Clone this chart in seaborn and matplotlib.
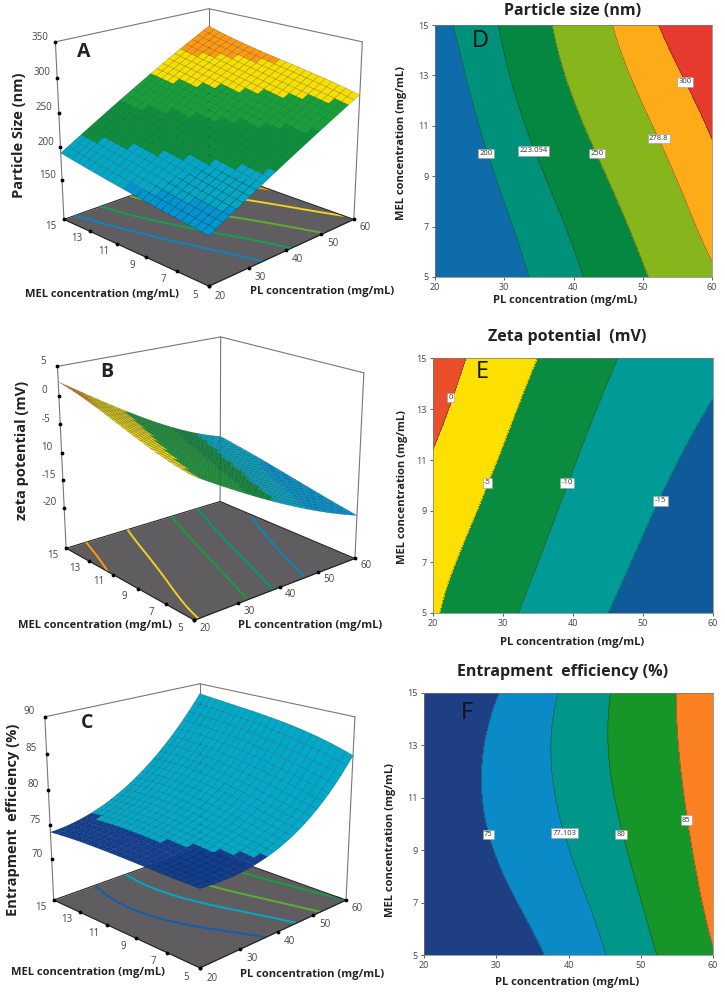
import numpy as np
import seaborn as sns
import matplotlib
matplotlib.use("Agg")
import matplotlib.pyplot as plt
from mpl_toolkits.mplot3d import proj3d

sns.set_theme(style="ticks")
plt.rcParams['font.family'] = ['Open Sans', 'DejaVu Sans']

pl_ticks = [20, 30, 40, 50, 60]
mel_ticks = [5, 7, 9, 11, 13, 15]
pl_grid = [20, 25, 30, 35, 40, 45, 50, 55, 60]

# rows = MEL 5,7,9,11,13,15, columns = pl_grid
size_values = [[158, 174, 189, 205, 218, 233, 248, 262, 275],
               [165, 180, 196, 212, 228, 241, 256, 271, 286],
               [170, 186, 205, 221, 236, 250, 265, 280, 294],
               [176, 193, 212, 230, 245, 260, 274, 288, 302],
               [184, 203, 221, 238, 254, 270, 285, 298, 312],
               [191, 207, 226, 244, 260, 277, 292, 308, 323]]
zeta_values = [[-4.6, -6.8, -9.1, -11.2, -13.1, -15.0, -16.7, -18.3, -19.7],
               [-3.5, -5.6, -7.9, -10.0, -12.0, -13.9, -15.6, -17.2, -18.6],
               [-2.1, -4.4, -6.8, -8.8, -10.8, -12.7, -14.5, -16.1, -17.5],
               [-0.4, -3.0, -5.5, -7.7, -9.8, -11.7, -13.4, -15.0, -16.3],
               [1.3, -1.4, -3.9, -6.4, -8.6, -10.7, -12.4, -14.0, -15.2],
               [2.3, -0.1, -2.6, -5.2, -7.3, -9.4, -11.3, -13.0, -14.3]]
ee_values = [[74.2, 74.3, 74.4, 74.6, 75.6, 77.1, 79.0, 81.6, 84.7],
             [74.2, 74.4, 74.7, 75.1, 76.2, 77.8, 79.9, 82.7, 86.0],
             [74.3, 74.6, 75.1, 76.0, 77.05, 78.7, 80.8, 83.8, 87.0],
             [74.3, 74.7, 75.3, 76.4, 77.6, 79.4, 81.8, 84.6, 87.5],
             [74.2, 74.6, 75.2, 76.4, 77.7, 79.7, 82.0, 84.9, 88.0],
             [73.9, 74.3, 74.9, 76.1, 77.6, 79.6, 82.2, 85.1, 88.5]]

size_levels = [200, 223.094, 250, 278.8, 300]
size_labels = ['200', '223.094', '250', '278.8', '300']
size_label_pos = [(27.4, 9.9), (34.2, 10.0), (43.4, 9.9), (52.3, 10.5), (56.1, 12.75)]
zeta_levels = [-15, -10, -5, 0]
zeta_labels = ['-15', '-10', '-5', '0']
zeta_label_pos = [(52.5, 9.4), (39.2, 10.1), (27.8, 10.1), (22.5, 13.45)]
ee_levels = [75, 77.103, 80, 85]
ee_labels = ['75', '77.103', '80', '85']
ee_label_pos = [(28.9, 9.6), (39.4, 9.65), (47.3, 9.6), (56.3, 10.15)]

X0, Y0 = np.meshgrid(pl_grid, mel_ticks)


def fx(x):
    return x / 725


def fy(y):
    return 1 - y / 996


def basis(X, Y):
    u = (np.ravel(X) - 40) / 20
    v = (np.ravel(Y) - 10) / 5
    return np.column_stack([u ** i * v ** j for i in range(4) for j in range(4)])


def refine(values, nx, ny):
    # smooth response surface through the read table, for the drawing mesh only
    coef = np.linalg.lstsq(basis(X0, Y0), np.ravel(values), rcond=None)[0]
    X, Y = np.meshgrid(np.linspace(20, 60, nx), np.linspace(5, 15, ny))
    return X, Y, (basis(X, Y) @ coef).reshape(X.shape)


def contour_panel(rect, values, levels, colors, labels, label_pos, title, title_xy, xlab_xy, ylab_xy, letter, letter_xy, letter_size):
    x0, y0, x1, y1 = rect
    ax = fig.add_axes([fx(x0), fy(y1), (x1 - x0) / 725, (y1 - y0) / 996])
    X, Y, Z = refine(values, 161, 121)
    ax.contourf(X, Y, Z, levels=[-1e4] + levels + [1e4], colors=sns.color_palette(colors))
    ax.contour(X, Y, Z, levels=levels, colors='#2a2a2a', linewidths=0.4, alpha=0.7)
    for lab, (px, py) in zip(labels, label_pos):
        ax.text(px, py, lab, fontsize=5.5, color='#333333', ha='center', va='center',
                bbox=dict(boxstyle='square,pad=0.18', fc='white', ec='#999999', lw=0.4))
    ax.set_xlim(20, 60)
    ax.set_ylim(5, 15)
    ax.set_xticks(pl_ticks)
    ax.set_yticks(mel_ticks)
    ax.tick_params(labelsize=6.5, colors='#444444', length=2.5, width=0.6, pad=2)
    for s in ax.spines.values():
        s.set_linewidth(0.5)
        s.set_color('#777777')
    fig.text(fx(title_xy[0]), fy(title_xy[1]), title, fontsize=11.5, fontweight='bold', color='#222222', ha='center', va='center')
    fig.text(fx(xlab_xy[0]), fy(xlab_xy[1]), 'PL concentration (mg/mL)', fontsize=8, fontweight='bold', color='#222222', ha='center', va='center')
    fig.text(fx(ylab_xy[0]), fy(ylab_xy[1]), 'MEL concentration (mg/mL)', fontsize=8, fontweight='bold', color='#222222', ha='center', va='center', rotation=90)
    fig.text(fx(letter_xy[0]), fy(letter_xy[1]), letter, fontsize=letter_size, color='#111111', ha='center', va='center')


def surface_panel(rect, azim, values, zlim, zticks, ztick_labels, surf_levels, surf_colors, floor_levels, floor_colors,
                  zlabel, zlabel_xy, zlabel_size, mel_xy, pl_xy, letter, letter_xy, zoom=0.95, zaspect=0.89, elev=19, pl_drop=0.025):
    x0, y0, w, h = rect
    ax = fig.add_axes([fx(x0), fy(y0 + h), w / 725, h / 996], projection='3d', computed_zorder=False)
    ax.set_proj_type('persp', focal_length=0.55)
    ax.view_init(elev=elev, azim=azim)
    ax.set_box_aspect((1, 1, zaspect), zoom=zoom)
    ax.patch.set_alpha(0)
    zmin, zmax = zlim

    # floor
    fx2, fy2 = np.meshgrid([20, 60], [5, 15])
    ax.plot_surface(fx2, fy2, np.full_like(fx2, zmin, dtype=float), color='#5f5d5f', shade=False, linewidth=0, zorder=1)

    X, Y, Z = refine(values, 161, 121)
    ax.contour(X, Y, Z, levels=floor_levels, colors=floor_colors, zdir='z', offset=zmin, linewidths=1.4, zorder=2)

    # back box lines
    grey = '#777777'
    for xs, ys, zs in [([20, 20], [15, 15], [zmin, zmax]), ([60, 60], [15, 15], [zmin, zmax]), ([60, 60], [5, 5], [zmin, zmax]),
                       ([20, 60], [15, 15], [zmax, zmax]), ([60, 60], [15, 5], [zmax, zmax])]:
        ax.plot(xs, ys, zs, color=grey, lw=0.8, zorder=1.5)
    ax.plot([20, 60], [5, 5], [zmin, zmin], color='#222222', lw=0.8, zorder=3)
    ax.plot([20, 20], [5, 15], [zmin, zmin], color='#222222', lw=0.8, zorder=3)
    ax.plot([60, 60], [5, 15], [zmin, zmin], color='#222222', lw=0.8, zorder=3)
    ax.plot([20, 60], [15, 15], [zmin, zmin], color='#222222', lw=0.8, zorder=1.5)

    # surface, banded by level
    Xs, Ys, Zs = refine(values, 25, 25)
    mid = (Zs[:-1, :-1] + Zs[1:, :-1] + Zs[:-1, 1:] + Zs[1:, 1:]) / 4
    idx = np.digitize(mid, surf_levels)
    cols = np.array([matplotlib.colors.to_rgba(c) for c in surf_colors])[idx]
    ax.plot_surface(Xs, Ys, Zs, facecolors=cols, rstride=1, cstride=1, shade=False,
                    edgecolor=(0, 0, 0, 0.35), linewidth=0.3, antialiased=True, zorder=4)

    # ticks as dots
    ax.scatter(pl_ticks, [5] * len(pl_ticks), [zmin] * len(pl_ticks), color='black', s=3, depthshade=False, zorder=5)
    ax.scatter([20] * len(mel_ticks), mel_ticks, [zmin] * len(mel_ticks), color='black', s=3, depthshade=False, zorder=5)
    ax.scatter([20] * len(zticks), [15] * len(zticks), zticks, color='black', s=3, depthshade=False, zorder=5)

    ax.set_xlim(20, 60)
    ax.set_ylim(5, 15)
    ax.set_zlim(zmin, zmax)
    ax.set_xticks([])
    ax.set_yticks([])
    ax.set_zticks([])
    ax.set_axis_off()

    # tick labels as plain 2D text at the projected spots
    M = ax.get_proj()

    def label3d(x, y, z, s):
        px, py, _ = proj3d.proj_transform(x, y, z, M)
        ax.text2D(px, py, s, transform=ax.transData, fontsize=7, color='#444444', ha='center', va='center', zorder=6)

    dz = (zmax - zmin)
    for t in pl_ticks:
        label3d(t, 5 - 0.7, zmin - dz * pl_drop, str(t))
    for t in mel_ticks:
        label3d(20 - 3.2, t, zmin - dz * 0.015, str(t))
    for t, lab in zip(zticks, ztick_labels):
        label3d(20 - 1.9, 15 + 0.5, t + dz * 0.025, lab)

    fig.text(fx(zlabel_xy[0]), fy(zlabel_xy[1]), zlabel, fontsize=zlabel_size, fontweight='bold', color='#222222', ha='center', va='center', rotation=90)
    fig.text(fx(mel_xy[0]), fy(mel_xy[1]), 'MEL concentration (mg/mL)', fontsize=8, fontweight='bold', color='#222222', ha='center', va='center')
    fig.text(fx(pl_xy[0]), fy(pl_xy[1]), 'PL concentration (mg/mL)', fontsize=8, fontweight='bold', color='#222222', ha='center', va='center')
    fig.text(fx(letter_xy[0]), fy(letter_xy[1]), letter, fontsize=14, fontweight='bold', color='#222222', ha='center', va='center')


fig = plt.figure(figsize=(7.25, 9.96), dpi=100, facecolor='white')

surface_panel((4, -42, 400, 360), -135, size_values, (90, 350), [150, 200, 250, 300, 350], ['150', '200', '250', '300', '350'],
              [178, 208, 242, 268, 295], ['#0095d0', '#00a7c6', '#0a8f3c', '#16a03a', '#f7e000', '#ff9a10'],
              size_levels, ['#0a86c0', '#12a050', '#5cb030', '#f0d020', '#ff9a10'],
              'Particle Size (nm)', (19, 135), 10.5, (102, 295), (322, 291), 'A', (84, 52), zoom=0.95)
surface_panel((4, 289, 400, 360), -130, zeta_values, (-27.6, 5), [-20, -15, -10, -5, 0, 5], ['-20', '-15', '10', '-5', '0', '5'],
              [-15.5, -12.5, -10, -5, 0], ['#0095d0', '#00a7c6', '#0a8f3c', '#16a03a', '#f2dc10', '#ff9a10'],
              [-15.5, -12.5, -10, -5, 0], ['#0a86c0', '#00997a', '#12a040', '#f0d020', '#ff9a10'],
              'zeta potential (mV)', (22, 450), 10.5, (95, 625), (310, 625), 'B', (107, 372), zoom=0.96, zaspect=0.92, pl_drop=0.012)
surface_panel((-5, 636, 400, 360), -135, ee_values, (63.9, 90), [70, 75, 80, 85, 90], ['70', '75', '80', '85', '90'],
              [75], ['#103f92', '#00a9c9'],
              ee_levels, ['#0f5fb0', '#00a9c9', '#5cb030', '#12a040'],
              'Entrapment  efficiency (%)', (13, 820), 10.5, (88, 972), (312, 974), 'C', (87, 723), zoom=0.965, zaspect=0.91)

contour_panel((435, 25, 712, 277), size_values, size_levels, ['#0f6cab', '#00917a', '#048740', '#86b51c', '#fdab17', '#e63a2e'],
              size_labels, size_label_pos, 'Particle size (nm)', (573, 11), (565, 301), (401, 143), 'D', (480, 41), 17)
contour_panel((433, 358, 713, 613), zeta_values, zeta_levels, ['#0f5a99', '#009b96', '#0a8c40', '#fde000', '#ea4f2c'],
              zeta_labels, zeta_label_pos, 'Zeta potential  (mV)', (567, 337), (572, 642), (402, 487), 'E', (482, 372), 17)
contour_panel((424, 693, 713, 955), ee_values, ee_levels, ['#1f3f85', '#0a8ac6', '#00968a', '#169629', '#fb8022'],
              ee_labels, ee_label_pos, 'Entrapment  efficiency (%)', (563, 672), (567, 982), (390, 840), 'F', (467, 713), 17)

fig.savefig('out.png', dpi=100)
